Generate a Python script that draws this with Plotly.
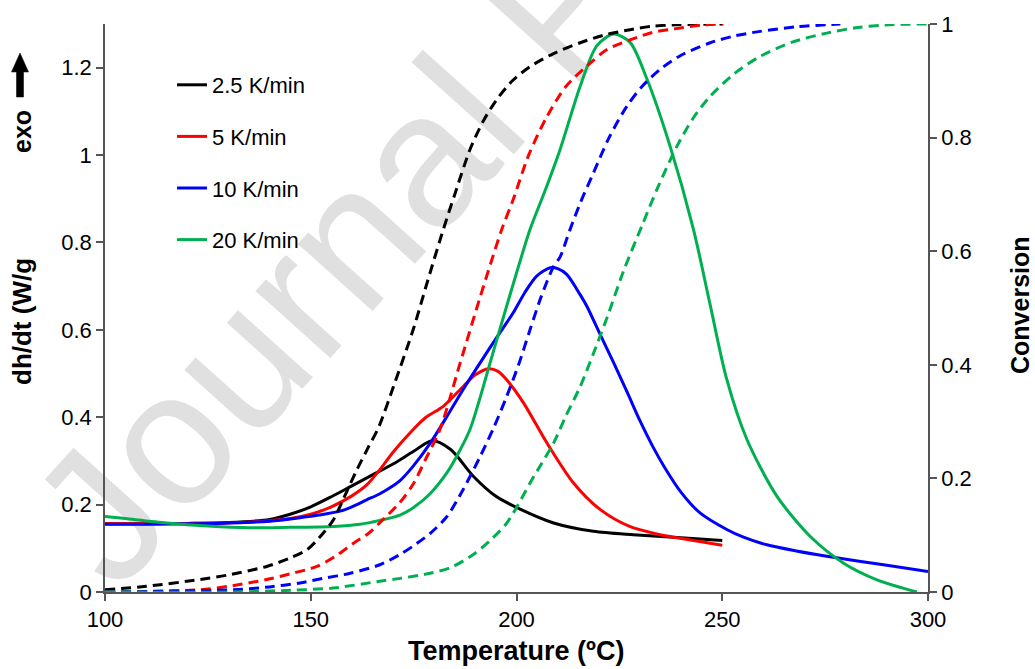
import plotly.graph_objects as go

# ---------------- data ----------------
T_25 = [100, 110, 120, 130, 140, 145, 150, 155, 160, 165, 170, 175, 179.5, 184, 189.5, 195, 201, 209, 218.7, 228.4, 240, 250]
H_25 = [0.156, 0.156, 0.157, 0.159, 0.166, 0.178, 0.195, 0.218, 0.243, 0.268, 0.293, 0.322, 0.346, 0.326, 0.265, 0.219, 0.189, 0.158, 0.139, 0.131, 0.124, 0.118]

T_5 = [100, 120, 130, 140, 145, 150, 155, 160, 163.6, 166.8, 170, 174.9, 178, 182.2, 187.1, 190, 193.2, 195.5, 197.6, 201.7, 207.4, 213.8, 220.3, 227.5, 234.9, 239, 250]
H_5 = [0.157, 0.157, 0.158, 0.163, 0.168, 0.178, 0.195, 0.22, 0.245, 0.28, 0.32, 0.372, 0.40, 0.425, 0.471, 0.497, 0.511, 0.505, 0.486, 0.433, 0.341, 0.25, 0.189, 0.150, 0.131, 0.124, 0.107]

T_10 = [100, 110, 120, 126, 130, 140, 147.4, 152, 157.1, 160, 163.6, 166.8, 171.7, 174.9, 179, 183.1, 187, 191.2, 195, 199.2, 202, 204.9, 208.2, 210, 212.2, 215.5, 217.1, 220.3, 223.6, 227, 230, 233, 236, 240, 244.6, 251.1, 255, 260.8, 268, 275.4, 290, 300]
H_10 = [0.155, 0.155, 0.156, 0.157, 0.158, 0.162, 0.170, 0.176, 0.185, 0.195, 0.211, 0.225, 0.255, 0.288, 0.34, 0.402, 0.463, 0.525, 0.58, 0.639, 0.685, 0.723, 0.742, 0.74, 0.727, 0.68, 0.654, 0.59, 0.525, 0.455, 0.392, 0.335, 0.285, 0.228, 0.181, 0.143, 0.126, 0.108, 0.094, 0.082, 0.061, 0.047]

T_20 = [100, 105, 115, 125, 135, 145, 155.5, 162, 166.8, 171.7, 174.9, 179, 183.1, 186, 188.7, 191, 193.6, 197.6, 203.3, 207, 210.6, 215.5, 219.5, 223.6, 227.6, 231.7, 237.3, 243, 247, 251, 256, 263.3, 271.4, 279.5, 287.6, 297.3]
H_20 = [0.173, 0.168, 0.158, 0.151, 0.147, 0.148, 0.150, 0.155, 0.164, 0.176, 0.193, 0.225, 0.273, 0.32, 0.372, 0.44, 0.525, 0.654, 0.83, 0.92, 1.013, 1.158, 1.250, 1.277, 1.258, 1.174, 1.021, 0.830, 0.660, 0.490, 0.349, 0.219, 0.127, 0.066, 0.028, 0.0]

CT_25 = [100, 110, 123.1, 130, 139.3, 145, 149, 152, 155.5, 158, 161.2, 164, 166.5, 170.5, 174.9, 178.5, 182.2, 185, 188.7, 192, 195.2, 199, 203.3, 209, 215.5, 221, 227.6, 233, 239.8, 250]
C_25 = [0.004, 0.01, 0.022, 0.03, 0.045, 0.06, 0.074, 0.095, 0.127, 0.165, 0.215, 0.255, 0.29, 0.37, 0.462, 0.55, 0.638, 0.70, 0.779, 0.83, 0.867, 0.90, 0.925, 0.948, 0.967, 0.98, 0.990, 0.996, 0.999, 1.0]

CT_5 = [100, 110, 123.1, 130, 139.3, 145, 151.5, 156, 160.4, 164, 166.8, 171.7, 174.9, 178, 181.4, 186.3, 191.2, 196.4, 199.2, 203, 207.4, 212, 217.9, 222, 227.6, 233, 239.8, 245, 250.3]
C_5 = [0.0, 0.001, 0.004, 0.01, 0.022, 0.032, 0.045, 0.063, 0.086, 0.103, 0.122, 0.158, 0.19, 0.235, 0.286, 0.403, 0.52, 0.638, 0.691, 0.77, 0.837, 0.89, 0.931, 0.955, 0.972, 0.985, 0.993, 0.998, 1.0]

CT_10 = [100, 131.2, 140, 147.4, 153, 159.6, 166.8, 171.7, 174.9, 179, 183.1, 187, 191.2, 194.5, 197.6, 200.5, 203.3, 206, 209, 210.6, 213, 215.5, 218.7, 222.5, 226.8, 230.5, 234.9, 240, 247.1, 253, 259.2, 268, 278.7]
C_10 = [0.0, 0.004, 0.009, 0.016, 0.024, 0.033, 0.048, 0.066, 0.081, 0.103, 0.133, 0.18, 0.239, 0.29, 0.344, 0.40, 0.462, 0.52, 0.573, 0.59, 0.638, 0.685, 0.738, 0.80, 0.855, 0.89, 0.920, 0.945, 0.967, 0.979, 0.987, 0.995, 1.0]

CT_20 = [100, 131.2, 145, 155.5, 166.8, 171.7, 179, 184, 189.5, 193.5, 197.6, 200.5, 203.3, 206, 209, 212, 215.5, 218.7, 222, 226, 230.5, 234.5, 239, 243, 247.1, 253, 259.2, 267, 275.4, 283, 291.6, 300]
C_20 = [0.0, 0.0, 0.003, 0.007, 0.019, 0.024, 0.033, 0.043, 0.066, 0.09, 0.121, 0.155, 0.192, 0.225, 0.262, 0.31, 0.362, 0.42, 0.483, 0.565, 0.645, 0.715, 0.785, 0.835, 0.873, 0.913, 0.943, 0.968, 0.984, 0.994, 0.999, 1.0]

RATE_LABELS = ["2.5 K/min", "5 K/min", "10 K/min", "20 K/min"]
COLORS = ["#000000", "#ff0000", "#0000ff", "#00b050"]

X_TICKS = [100, 150, 200, 250, 300]
Y_TICKS = [0, 0.2, 0.4, 0.6, 0.8, 1, 1.2]
Y2_TICKS = [0, 0.2, 0.4, 0.6, 0.8, 1]

# ---------------- figure ----------------
W, H = 1035, 669
ML, MR, MT, MB = 105, 107, 24, 77
PW, PH = W - ML - MR, H - MT - MB


def px(x):
    return (x - ML) / PW


def py(y):
    return (H - MB - y) / PH


FONT = "Arial, 'Liberation Sans', sans-serif"
AXC = "#555555"

fig = go.Figure()

heat = [(T_25, H_25), (T_5, H_5), (T_10, H_10), (T_20, H_20)]
conv = [(CT_25, C_25), (CT_5, C_5), (CT_10, C_10), (CT_20, C_20)]

for i, (t, c) in enumerate(conv):
    fig.add_trace(go.Scatter(x=t, y=c, mode="lines", yaxis="y2", showlegend=False,
                             line=dict(color=COLORS[i], width=3, dash="10px,6px",
                                       shape="spline", smoothing=0.8),
                             hoverinfo="skip"))
for i, (t, h) in enumerate(heat):
    fig.add_trace(go.Scatter(x=t, y=h, mode="lines", name=RATE_LABELS[i],
                             legendgroup=RATE_LABELS[i],
                             line=dict(color=COLORS[i], width=3, shape="spline",
                                       smoothing=0.8)))

fig.update_layout(
    width=W, height=H,
    margin=dict(l=ML, r=MR, t=MT, b=MB, pad=0),
    paper_bgcolor="white", plot_bgcolor="white",
    font=dict(family=FONT, size=22, color="#000000"),
    showlegend=True,
    legend=dict(x=px(172), y=py(64), xanchor="left", yanchor="top",
                bgcolor="rgba(0,0,0,0)", font=dict(size=22, color="#000"),
                tracegroupgap=20, itemwidth=30, traceorder="grouped"),
    xaxis=dict(range=[100, 300], tickvals=X_TICKS, showgrid=False, zeroline=False,
               showline=True, linecolor=AXC, linewidth=1.5, ticks="outside",
               ticklen=7, tickcolor=AXC, tickwidth=1.5, mirror=False,
               tickfont=dict(size=22)),
    yaxis=dict(range=[0, 1.3], tickvals=Y_TICKS, showgrid=False, zeroline=False,
               showline=True, linecolor=AXC, linewidth=1.5, ticks="outside",
               ticklen=7, tickcolor=AXC, tickwidth=1.5, tickfont=dict(size=22)),
    yaxis2=dict(range=[0, 1], tickvals=Y2_TICKS, overlaying="y", side="right",
                showgrid=False, zeroline=False, showline=True, linecolor=AXC,
                linewidth=1.5, ticks="outside", ticklen=7, tickcolor=AXC,
                tickwidth=1.5, tickfont=dict(size=22)),
)

# watermark (drawn below the data)
fig.add_shape(type="line", xref="paper", yref="paper", layer="below",
              x0=px(135), y0=py(612), x1=px(535), y1=py(168),
              line=dict(color="rgba(0,0,0,0)", width=0),
              label=dict(text="Journal Pre-proof", textposition="start",
                         font=dict(size=190, color="#e0e0e0", family=FONT)))

# exo arrow
arrow_path = "M {0},{1} L {2},{3} L {4},{3} L {4},{5} L {6},{5} L {6},{3} L {7},{3} Z".format(
    px(20), py(53), px(11.5), py(72), px(16.5), py(97), px(23.5), px(28.5))
fig.add_shape(type="path", xref="paper", yref="paper", path=arrow_path,
              fillcolor="black", line=dict(color="black", width=0.5))

ann = [
    dict(text="<b>exo</b>", x=px(22), y=py(132), textangle=-90, font=dict(size=25)),
    dict(text="<b>dh/dt (W/g</b>", x=px(22), y=py(322), textangle=-90, font=dict(size=26)),
    dict(text="<b>Conversion</b>", x=px(1020), y=py(305), textangle=-90, font=dict(size=25)),
    dict(text="<b>Temperature (ºC)</b>", x=px(516), y=py(651), font=dict(size=27)),
]
for a in ann:
    fig.add_annotation(xref="paper", yref="paper", showarrow=False,
                       xanchor="center", yanchor="middle", **a)

fig.write_html("out.html")
